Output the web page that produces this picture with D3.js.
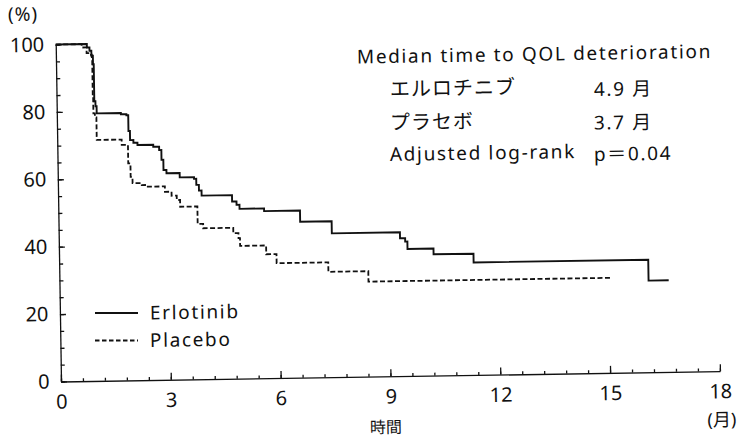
<!DOCTYPE html>
<html>
<head>
<meta charset="utf-8">
<script src="https://cdn.jsdelivr.net/npm/d3@7"></script>
<style>
  body { margin: 0; background: #fff; }
  text { fill: #111; }
</style>
</head>
<body>
<div id="chart"></div>
<script>
// Kaplan-Meier: time to QOL deterioration, erlotinib vs placebo
// step data (months, % without deterioration)

var erlotinibTime = [0, 0.85, 0.92, 0.97, 1.01, 1.03, 1.06, 1.09, 1.75, 1.90, 1.95, 1.99, 2.08, 2.19, 2.62, 2.78, 2.84, 2.89, 2.97, 3.33, 3.72, 3.78, 3.85, 3.92, 4.75, 4.87, 4.95, 5.62, 6.60, 7.46, 9.32, 9.46, 9.52, 10.23, 11.32, 16.09, 16.64];
var erlotinibPct  = [100, 99, 98, 96.5, 94, 83, 81.5, 79.4, 79.0, 78.7, 74, 71.3, 70.5, 69.8, 69.2, 68.2, 65.3, 62.3, 61.3, 60.0, 59.5, 57.7, 56, 54.5, 52.6, 51.6, 50.4, 49.6, 46.3, 42.7, 40.9, 39.9, 37.7, 36.0, 33.4, 27.2, 27.2];

var placeboTime = [0, 0.71, 0.84, 0.93, 0.98, 0.99, 1.00, 1.04, 1.08, 1.76, 1.93, 1.99, 2.04, 2.29, 2.38, 2.92, 3.10, 3.24, 3.33, 3.80, 3.95, 4.77, 4.91, 4.95, 5.66, 5.94, 7.35, 8.44, 15.04];
var placeboPct  = [100, 99, 97.3, 96.8, 95.3, 84.4, 79.4, 78.2, 71.5, 69.9, 64.4, 60.4, 58.5, 57.9, 57.4, 55.8, 54.6, 53.3, 51.3, 46.1, 44.8, 43.2, 41.7, 39.4, 36.8, 34.1, 31.3, 28.2, 28.2];

var xMajorTicks = [0, 3, 6, 9, 12, 15, 18];
var yMajorTicks = [0, 20, 40, 60, 80, 100];
var seriesNames = ['Erlotinib', 'Placebo'];
var medianRows = [
  ['エルロチニブ', '4.9 月'],
  ['プラセボ', '3.7 月'],
  ['Adjusted log-rank', 'p＝0.04']
];

var W = 740, H = 437;
var ox = 61, oy = 381.5;        // axis corner on screen
var tilt = 0.9;                 // the scan is turned slightly counter-clockwise
var LATIN = '"Noto Sans", "Noto Sans CJK JP", sans-serif';

var svg = d3.select('#chart').append('svg')
  .attr('width', W).attr('height', H)
  .style('background', '#fff');

var g = svg.append('g')
  .attr('transform', 'translate(' + ox + ',' + oy + ') rotate(' + (-tilt) + ')');

// screen position -> position inside the tilted group
var rad = tilt * Math.PI / 180;
function toFrame(sx, sy) {
  var dx = sx - ox, dy = sy - oy;
  return [dx * Math.cos(rad) - dy * Math.sin(rad), dx * Math.sin(rad) + dy * Math.cos(rad)];
}

var x = d3.scaleLinear().domain([0, 18]).range([0, 659]);
var y = d3.scaleLinear().domain([0, 100]).range([0, -337]);

// minor ticks (every 0.6 month / 5 %)
var xMinor = d3.range(0, 18.001, 0.6);
var yMinor = d3.range(0, 100.001, 5);

g.append('g')
  .call(d3.axisBottom(x).tickValues(xMinor).tickSize(-3).tickSizeOuter(0).tickFormat(''))
  .call(function (s) { s.selectAll('line, path').attr('stroke', '#111').attr('stroke-width', 1.3); });

g.append('g')
  .call(d3.axisBottom(x).tickValues(xMajorTicks).tickSize(-7).tickSizeOuter(0).tickPadding(13))
  .call(function (s) {
    s.select('.domain').remove();
    s.selectAll('line').attr('stroke', '#111').attr('stroke-width', 1.3);
    s.selectAll('text').attr('font-family', LATIN).attr('font-size', 20).attr('fill', '#111');
  });

g.append('g')
  .call(d3.axisLeft(y).tickValues(yMinor).tickSize(-4).tickSizeOuter(0).tickFormat(''))
  .call(function (s) { s.selectAll('line, path').attr('stroke', '#111').attr('stroke-width', 1.3); });

g.append('g')
  .call(d3.axisLeft(y).tickValues(yMajorTicks).tickSize(-6).tickSizeOuter(0).tickPadding(11.5))
  .call(function (s) {
    s.select('.domain').remove();
    s.selectAll('line').attr('stroke', '#111').attr('stroke-width', 1.3);
    s.selectAll('text').attr('font-family', LATIN).attr('font-size', 20).attr('fill', '#111');
  });

// survival curves
var line = d3.line()
  .x(function (d) { return x(d[0]); })
  .y(function (d) { return y(d[1]); })
  .curve(d3.curveStepAfter);

g.append('path')
  .datum(d3.zip(placeboTime, placeboPct))
  .attr('d', line)
  .attr('fill', 'none').attr('stroke', '#111').attr('stroke-width', 1.8)
  .attr('stroke-dasharray', '5,2.5');

g.append('path')
  .datum(d3.zip(erlotinibTime, erlotinibPct))
  .attr('d', line)
  .attr('fill', 'none').attr('stroke', '#111').attr('stroke-width', 1.9);

// texts, given in screen coordinates
function label(sx, sy, str, opts) {
  var p = toFrame(sx, sy);
  opts = opts || {};
  return g.append('text')
    .attr('x', p[0]).attr('y', p[1])
    .attr('font-family', LATIN)
    .attr('font-size', opts.size || 19)
    .attr('letter-spacing', opts.ls == null ? 1.65 : opts.ls)
    .attr('text-anchor', opts.anchor || 'start')
    .text(str);
}

label(8, 21, '(%)', { size: 19, ls: 1 });
label(386, 433, '時間', { size: 16, ls: 0, anchor: 'middle' });
label(722, 426, '(月)', { size: 18, ls: 0, anchor: 'middle' });

label(357, 63.5, 'Median time to QOL deterioration');
var rowBase = [96, 129.5, 161];
medianRows.forEach(function (r, i) {
  var jp = /[\u3040-\u30ff]/.test(r[0]);
  label(390, rowBase[i], r[0], jp ? { size: 20, ls: 1 } : {});
  label(594, rowBase[i], r[1]);
});

// legend
var legendY = [313, 340.5];
seriesNames.forEach(function (name, i) {
  var a = toFrame(95, legendY[i]), b = toFrame(138, legendY[i]);
  g.append('line')
    .attr('x1', a[0]).attr('y1', a[1]).attr('x2', b[0]).attr('y2', b[1])
    .attr('stroke', '#111').attr('stroke-width', i === 0 ? 1.9 : 1.8)
    .attr('stroke-dasharray', i === 0 ? null : '4.5,2.5');
  label(150, legendY[i] + 6.5, name);
});
</script>
</body>
</html>
